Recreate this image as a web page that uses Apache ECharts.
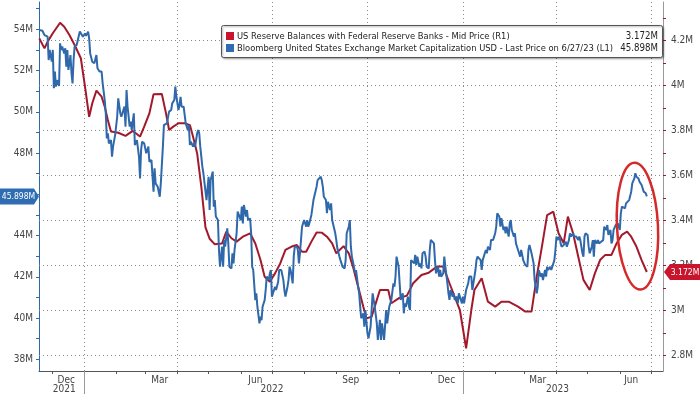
<!DOCTYPE html>
<html><head><meta charset="utf-8">
<script src="https://cdn.jsdelivr.net/npm/echarts@6/dist/echarts.min.js"></script>
<style>html,body{margin:0;padding:0;background:#fff}#c{width:700px;height:394px}</style>
</head><body><div id="c"></div>
<script>
// x values are days since 2022-01-01
const blueDays = [-43,-40,-38,-35,-34,-33,-31,-30,-29,-28,-27,-26,-24,-23,-22,-21,-19,-18,-17,-16,-15,-13,-12,-11,-10,-9,-7,-6,-4,-3,-1,1,2,4,5,6,8,9,10,12,13,14,15,17,18,20,21,22,23,24,26,27,28,30,31,32,33,35,36,37,39,40,41,42,44,45,46,48,49,50,51,53,54,55,56,58,59,60,62,63,64,65,67,68,69,71,72,73,74,76,77,78,80,81,82,84,85,87,88,89,91,92,93,94,96,97,98,100,101,102,103,105,106,107,109,110,111,112,114,115,116,118,120,121,122,124,125,126,127,129,130,131,133,134,135,136,138,139,140,142,143,144,145,147,148,149,151,152,153,154,156,157,158,160,161,162,163,165,166,167,169,170,171,172,174,175,176,178,179,180,181,183,184,185,187,188,189,190,192,193,194,196,197,198,199,201,202,203,205,206,207,208,210,211,212,214,215,216,217,219,220,221,222,224,225,226,228,229,230,231,233,234,235,237,238,239,240,242,243,244,246,247,248,249,251,252,253,255,256,257,258,260,261,262,264,265,266,267,269,270,271,273,274,275,276,278,279,280,282,283,285,286,287,289,290,291,292,294,295,296,298,299,300,301,303,304,305,307,308,309,310,312,313,314,315,316,318,319,320,321,323,324,325,326,328,329,330,332,333,334,335,337,338,339,341,342,343,344,346,347,348,350,351,352,353,355,356,357,359,360,361,362,364,365,366,368,369,370,371,373,374,375,377,378,379,380,382,383,384,386,387,388,389,391,392,393,394,396,397,398,400,401,402,404,405,406,407,409,410,411,412,414,415,416,418,419,420,421,423,424,425,427,428,429,430,431,433,434,436,437,438,440,441,442,444,445,446,447,449,450,451,453,454,455,456,458,459,460,462,463,464,465,467,468,469,471,472,473,474,476,477,478,480,481,482,483,485,486,487,489,490,491,492,494,495,496,498,499,500,501,503,504,505,507,508,509,510,512,513,514,516,517,518,519,521,522,523,525,526,527,528,530,531,532,533,534,535,537,538,539,541,542];
const blueVals = [53.97,53.93,53.72,53.64,52.51,53.00,52.43,53.00,51.14,51.95,51.22,51.54,51.25,53.32,53.00,53.16,52.83,53.08,52.19,53.00,52.03,52.75,51.86,51.38,52.51,53.16,53.24,53.32,53.89,53.80,53.64,53.80,53.68,53.89,53.56,52.83,52.43,52.51,52.35,52.75,52.11,52.03,51.95,51.95,51.38,50.57,49.93,48.71,48.96,48.47,48.63,47.82,48.31,48.87,48.96,49.76,50.65,49.93,49.76,49.84,50.25,49.28,51.06,50.25,49.28,49.52,49.12,49.93,48.39,48.31,48.63,47.82,46.77,48.15,48.55,48.47,48.55,47.99,48.31,47.58,47.50,47.66,46.13,47.26,46.53,46.37,46.29,45.88,46.53,48.31,49.36,49.44,49.44,49.76,50.01,50.09,50.41,50.57,51.22,50.73,50.09,50.33,50.73,50.25,50.25,49.84,49.44,49.12,49.36,48.39,48.55,48.31,48.47,48.31,48.96,49.12,48.96,48.31,47.34,47.02,47.10,45.72,46.85,45.24,46.69,47.10,45.40,45.72,44.92,44.75,43.30,42.49,43.46,42.49,43.78,43.46,44.35,43.62,42.49,42.41,43.14,42.65,43.30,44.11,45.16,45.16,44.75,45.40,44.59,45.48,44.92,45.24,44.75,44.83,44.11,42.49,42.33,40.87,41.20,40.55,39.74,40.07,39.90,40.55,40.87,41.36,42.01,41.85,42.17,42.33,41.04,41.36,41.52,41.36,41.76,42.33,42.33,42.33,41.85,41.36,41.04,41.52,41.85,42.49,42.33,41.68,42.98,43.46,43.46,43.30,42.65,43.14,44.43,44.59,44.75,44.43,44.75,44.43,44.59,45.00,45.08,45.72,45.72,46.37,46.69,46.69,46.85,46.69,46.37,45.88,45.72,45.08,45.64,45.24,45.56,44.75,44.83,44.11,43.78,43.38,42.98,42.81,42.65,42.49,42.41,42.81,44.11,44.43,44.75,43.46,42.98,42.49,42.17,42.33,41.52,41.20,40.55,39.99,40.23,39.58,40.39,39.26,39.02,38.94,39.58,41.20,40.87,40.55,39.74,38.94,39.91,38.94,39.74,38.94,38.94,40.39,39.74,40.55,40.71,40.88,41.68,41.52,42.01,42.98,42.49,41.68,40.88,41.20,40.23,40.71,40.55,41.04,40.55,40.39,42.81,42.90,42.65,43.06,42.57,42.98,42.49,42.65,42.41,43.14,43.22,42.98,42.49,42.41,43.30,43.79,43.79,43.62,42.81,42.17,42.49,42.01,42.33,42.01,42.17,42.98,42.49,41.68,41.20,40.88,41.36,41.04,41.20,40.88,41.04,40.71,41.20,41.04,40.71,41.04,40.71,41.36,41.52,41.68,42.01,42.01,41.36,41.68,42.33,42.81,42.98,42.98,42.81,42.33,42.81,43.14,43.30,43.14,43.46,43.30,43.79,43.79,43.79,44.11,44.43,45.08,44.92,44.43,44.84,44.27,44.43,44.11,44.43,43.95,44.59,44.75,44.27,43.95,44.11,43.62,43.30,43.14,42.98,43.30,42.81,42.81,42.57,42.49,43.30,43.54,43.62,43.14,42.65,41.84,41.20,41.52,42.33,42.01,42.17,41.84,42.33,42.01,42.49,42.33,42.49,42.33,42.49,42.81,43.30,43.95,43.78,43.95,43.62,43.46,43.54,43.62,43.70,43.46,43.78,44.11,43.95,44.11,43.95,43.86,43.95,43.78,43.95,43.78,43.14,42.98,43.95,44.11,44.03,43.46,43.14,43.46,43.78,42.98,43.78,43.62,43.78,43.62,43.70,43.62,43.78,44.43,44.27,44.51,44.03,44.27,43.62,43.78,44.27,44.51,44.43,44.59,44.27,45.08,45.40,45.48,45.32,45.56,45.56,45.72,45.72,46.13,46.53,46.77,47.02,46.85,46.77,46.77,46.61,46.45,46.53,46.13,46.05,45.898];
const redDays = [-43,-38,-35,-30,-23,-19,-14,-9,-3,1,5,8,12,17,20,23,26,33,40,47,54,58,63,67,75,79,82,86,91,97,102,105,109,113,117,121,126,133,137,142,147,153,160,165,170,174,179,184,189,194,200,205,210,214,219,224,229,234,239,243,250,255,259,264,269,272,277,280,285,293,296,303,311,317,325,332,340,346,352,357,362,368,373,376,383,389,396,402,409,418,425,431,436,441,446,452,457,462,466,471,476,481,487,492,497,502,508,513,518,523,527,532,537,542];
const redVals = [4.21,4.166,4.196,4.233,4.280,4.262,4.225,4.181,4.122,3.996,3.862,3.922,3.978,3.951,3.907,3.848,3.796,3.791,3.777,3.799,3.774,3.818,3.877,3.962,3.963,3.877,3.803,3.818,3.833,3.833,3.825,3.774,3.699,3.551,3.370,3.320,3.295,3.299,3.351,3.322,3.307,3.329,3.344,3.299,3.225,3.151,3.129,3.166,3.210,3.270,3.285,3.292,3.262,3.262,3.307,3.348,3.347,3.329,3.299,3.255,3.287,3.255,3.196,3.107,3.018,2.966,2.973,3.018,3.092,3.092,3.033,3.055,3.067,3.122,3.159,3.169,3.196,3.196,3.122,3.062,3.003,2.833,3.003,3.092,3.144,3.040,3.018,3.040,3.040,3.018,2.996,2.996,3.151,3.285,3.425,3.440,3.344,3.300,3.418,3.344,3.240,3.137,3.092,3.166,3.225,3.248,3.248,3.300,3.337,3.351,3.329,3.285,3.225,3.172];

const redName = 'US Reserve Balances with Federal Reserve Banks - Mid Price (R1)';
const blueName = 'Bloomberg United States Exchange Market Capitalization USD - Last Price on 6/27/23 (L1)';

const monthTicks = ['2021-12-01','2022-01-01','2022-02-01','2022-03-01','2022-04-01','2022-05-01','2022-06-01','2022-07-01','2022-08-01','2022-09-01','2022-10-01','2022-11-01','2022-12-01','2023-01-01','2023-02-01','2023-03-01','2023-04-01','2023-05-01','2023-06-01','2023-07-01'];
const xLabelDates = ['2021-12-15','2022-03-15','2022-06-15','2022-09-15','2022-12-16','2023-03-14','2023-06-12'];
const xLabelText = ['Dec','Mar','Jun','Sep','Dec','Mar','Jun'];
const yearLabelDates = ['2021-12-13','2022-07-01','2023-04-02'];
const yearLabelText = ['2021','2022','2023'];
const yearSeps = ['2022-01-01','2023-01-01'];
const quarterLines = ['2022-01-01','2022-04-01','2022-07-01','2022-10-01','2023-01-01','2023-04-01','2023-07-01'];
const leftLabels = [38,40,42,44,46,48,50,52,54];
const leftTicks = [38,39,40,41,42,43,44,45,46,47,48,49,50,51,52,53,54,55];
const rightLabels = [2.8,3.0,3.2,3.4,3.6,3.8,4.0,4.2];
const rightTicks = [2.8,2.9,3.0,3.1,3.2,3.3,3.4,3.5,3.6,3.7,3.8,3.9,4.0,4.1,4.2,4.3];

// date string -> days since 2022-01-01
const day = s => (Date.parse(s) - Date.UTC(2022,0,1)) / 864e5;
const FONT = "'Liberation Sans Narrow','DejaVu Sans Condensed','Liberation Sans',sans-serif";
const xMin = -43.3, xMax = 557.6;
function lookup(dates, texts){
  const t = dates.map(day);
  return v => { let bi=0, bd=Infinity; t.forEach((x,i)=>{const dd=Math.abs(x-v); if(dd<bd){bd=dd;bi=i;}}); return texts[bi]; };
}
const BLUE = '#2f69ab', RED = '#a3192c';

const chart = echarts.init(document.getElementById('c'));
chart.setOption({
  animation:false,
  grid:{left:39,right:37,top:2,bottom:23},
  xAxis:[{
    type:'value', min:xMin, max:xMax, position:'bottom',
    axisLine:{show:true, onZero:false, lineStyle:{color:'#555', width:1}},
    axisTick:{show:true, customValues:monthTicks.map(day), length:3, lineStyle:{color:'#555'}},
    axisLabel:{customValues:xLabelDates.map(day), formatter:lookup(xLabelDates,xLabelText), margin:4, fontSize:10, color:'#444', fontFamily:FONT},
    splitLine:{show:false}
  },{
    type:'value', min:xMin, max:xMax, position:'bottom',
    axisLine:{show:false, onZero:false},
    axisTick:{show:true, customValues:yearSeps.map(day), length:23, lineStyle:{color:'#999'}},
    axisLabel:{customValues:yearLabelDates.map(day), formatter:lookup(yearLabelDates,yearLabelText), margin:13, fontSize:10, color:'#444', fontFamily:FONT},
    splitLine:{show:false}
  }],
  yAxis:[{
    type:'value', position:'left', min:37.433, max:55.324,
    axisLine:{show:true, onZero:false, lineStyle:{color:BLUE}},
    axisTick:{show:true, customValues:leftTicks, length:3, lineStyle:{color:BLUE}},
    axisLabel:{customValues:leftLabels, formatter:v=>v+'M', margin:6, fontSize:10, color:'#444', fontFamily:FONT},
    splitLine:{show:false}
  },{
    type:'value', position:'right', min:2.732, max:4.372,
    axisLine:{show:true, onZero:false, lineStyle:{color:'#999'}},
    axisTick:{show:true, customValues:rightTicks, length:3, lineStyle:{color:RED}},
    axisLabel:{customValues:rightLabels, formatter:v=>(+(+v).toFixed(2))+'M', margin:8, fontSize:10, color:'#444', fontFamily:FONT},
    splitLine:{show:false}
  }],
  series:[{
    name:redName, type:'line', xAxisIndex:0, yAxisIndex:1, z:3,
    data:redDays.map((d,i)=>[d, redVals[i]]),
    showSymbol:false, symbol:'none', lineStyle:{color:RED, width:2}, itemStyle:{color:RED},
    markLine:{silent:true, symbol:'none', z:1, animation:false, label:{show:false},
      lineStyle:{type:[1,3], color:'#8a8a8a', width:1},
      emphasis:{disabled:true},
      data:[...rightLabels.map(v=>({yAxis:v})), ...quarterLines.map(s=>({xAxis:day(s)}))]}
  },{
    name:blueName, type:'line', xAxisIndex:0, yAxisIndex:0, z:4,
    data:blueDays.map((d,i)=>[d, blueVals[i]]),
    showSymbol:false, symbol:'none', lineStyle:{color:BLUE, width:2}, itemStyle:{color:BLUE}
  }]
});

const blueLast = blueVals[blueVals.length-1], redLast = redVals[redVals.length-1];
const blueTxt = blueLast.toFixed(3)+'M', redTxt = redLast.toFixed(3)+'M';
const yb = chart.convertToPixel({yAxisIndex:0}, blueLast);
const yr = chart.convertToPixel({yAxisIndex:1}, redLast);
const ec = chart.convertToPixel({xAxisIndex:0, yAxisIndex:1}, [day('2023-06-18'), 3.376]);
const txt = (x,y,t,o) => ({type:'text', x, y, z:101, style:Object.assign({text:t, fontSize:9.6, fontFamily:FONT, fill:'#222', verticalAlign:'middle', textVerticalAlign:'middle'}, o||{})});
chart.setOption({graphic:[
  {type:'rect', z:100, shape:{x:221.5,y:25.5,width:441,height:32,r:2}, style:{fill:'#fff', stroke:'#555', lineWidth:1, shadowBlur:2, shadowOffsetX:1, shadowOffsetY:1, shadowColor:'rgba(0,0,0,0.35)'}},
  {type:'rect', z:101, shape:{x:226,y:32,width:8,height:8}, style:{fill:'#c8142c'}},
  {type:'rect', z:101, shape:{x:226,y:44,width:8,height:8}, style:{fill:'#2f6db3'}},
  txt(237,36.5,redName,{fontSize:9.3}),
  txt(237,48.5,blueName,{fontSize:9.3}),
  txt(658,36.5,redTxt,{align:'right', textAlign:'right'}),
  txt(658,48.5,blueTxt,{align:'right', textAlign:'right'}),
  {type:'polygon', z:100, shape:{points:[[0,yb-8],[34,yb-8],[39,yb],[34,yb+8],[0,yb+8]]}, style:{fill:'#2f6db3'}},
  txt(18.5,yb+0.5,blueTxt,{fill:'#fff', align:'center', textAlign:'center', fontSize:8.5}),
  {type:'polygon', z:100, shape:{points:[[664,yr],[670,yr-8],[700,yr-8],[700,yr+8],[670,yr+8]]}, style:{fill:'#c8142c'}},
  txt(685,yr+0.5,redTxt,{fill:'#fff', align:'center', textAlign:'center', fontSize:8.5}),
  {type:'ellipse', z:50, x:ec[0], y:ec[1], rotation:0.05, shape:{cx:0,cy:0,rx:20.5,ry:63.5}, style:{fill:'none', stroke:'#d42a2a', lineWidth:2.5}}
]});
</script>
</body></html>
